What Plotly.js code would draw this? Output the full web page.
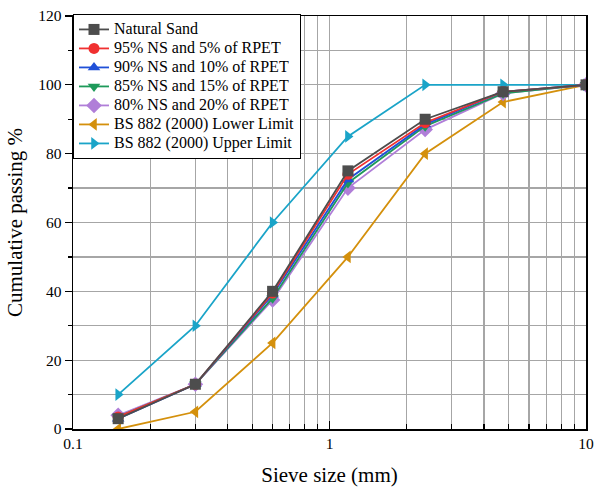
<!DOCTYPE html>
<html><head><meta charset="utf-8">
<script src="https://cdn.plot.ly/plotly-3.0.1.min.js"></script>
<style>body{margin:0;background:#fff}#chart{width:594px;height:494px}
.legendtext{font-size:16px !important;}</style>
</head><body><div id="chart"></div>
<script>
const sieveSizes = [0.15, 0.3, 0.6, 1.18, 2.36, 4.75, 10];
const naturalSand = [3, 13, 40, 75, 90, 98, 100];
const ns95 = [3.5, 13, 39.5, 74, 89, 98, 100];
const ns90 = [3, 13, 39, 72.5, 88.5, 98, 100];
const ns85 = [3.5, 13, 38, 71.5, 88, 97.5, 100];
const ns80 = [4, 13, 37.5, 70, 87, 97.5, 100];
const lowerLimit = [0, 5, 25, 50, 80, 95, 100];
const upperLimit = [10, 30, 60, 85, 100, 100, 100];
const seriesNames = ["Natural Sand", "95% NS and 5% of RPET", "90% NS and 10% of RPET", "85% NS and 15% of RPET", "80% NS and 20% of RPET", "BS 882 (2000) Lower Limit", "BS 882 (2000) Upper Limit"];
const xMajorTicks = [0.1, 1, 10];
const xMajorLabels = ["0.1", "1", "10"];
const xMinorTicks = [0.2,0.3,0.4,0.5,0.6,0.7,0.8,0.9,2,3,4,5,6,7,8,9];
const yMajorTicks = [0, 20, 40, 60, 80, 100, 120];
const yMinorTicks = [10, 30, 50, 70, 90, 110];

const seriesData = [naturalSand, ns95, ns90, ns85, ns80, lowerLimit, upperLimit];
const colors = ["#4d4d4d", "#f03030", "#2050d8", "#1e9a5a", "#b07ed8", "#d4900c", "#1aa4c8"];
const symbols = ["square", "circle", "triangle-up", "triangle-down", "diamond", "triangle-left", "triangle-right"];
const traces = seriesData.map((ys, i) => ({
  x: sieveSizes, y: ys, name: seriesNames[i], type: "scatter", mode: "lines+markers",
  line: {color: colors[i], width: 1.8},
  marker: {symbol: symbols[i], color: colors[i], size: i === 4 ? 12 : 11},
  legendrank: i + 1
}));
const drawn = [
  {x: [], y: [], xaxis: "x2", yaxis: "y2", type: "scatter", mode: "markers", showlegend: false, hoverinfo: "skip"},
  traces[5], traces[6], traces[4], traces[3], traces[2], traces[1], traces[0]
];

const font = {family: "Liberation Serif, Times New Roman, serif", color: "#000"};
const gridColor = "#a6a6a6";
const layout = {
  width: 594, height: 494,
  margin: {l: 73, r: 8, t: 16, b: 65},
  paper_bgcolor: "#fff", plot_bgcolor: "rgba(0,0,0,0)",
  font: Object.assign({size: 15}, font),
  showlegend: true,
  legend: {x: 0, y: 1.005, xanchor: "left", yanchor: "top", bgcolor: "#fff", bordercolor: "#000", borderwidth: 1,
    font: Object.assign({size: 12.3}, font), traceorder: "normal", tracegroupgap: 0, itemwidth: 30},
  xaxis: {
    type: "log", range: [-1, 1],
    title: {text: "Sieve size (mm)", font: Object.assign({size: 21}, font), standoff: 16},
    tickmode: "array", tickvals: xMajorTicks, ticktext: xMajorLabels,
    ticks: "inside", ticklen: 8, tickcolor: "#000", tickwidth: 1.2,
    tickfont: Object.assign({size: 15.5}, font),
    showgrid: true, gridcolor: gridColor, gridwidth: 1.2,
    showline: true, linecolor: "#000", linewidth: 1.5, mirror: true, zeroline: false
  },
  yaxis: {
    range: [0, 120],
    title: {text: "Cumulative passing %", font: Object.assign({size: 21}, font), standoff: 10},
    tickmode: "array", tickvals: yMajorTicks,
    ticks: "outside", ticklen: 7, tickcolor: "#000", tickwidth: 1.2,
    tickfont: Object.assign({size: 15.5}, font),
    showgrid: true, gridcolor: gridColor, gridwidth: 1.2,
    showline: true, linecolor: "#000", linewidth: 1.5, mirror: true, zeroline: false
  },
  xaxis2: {
    type: "log", range: [-1, 1], overlaying: "x", anchor: "y2", side: "bottom",
    tickmode: "array", tickvals: xMinorTicks, showticklabels: false,
    ticks: "inside", ticklen: 5, tickcolor: "#000", tickwidth: 1.2,
    showgrid: true, gridcolor: gridColor, gridwidth: 1.2, showline: false, zeroline: false
  },
  yaxis2: {
    range: [0, 120], overlaying: "y", anchor: "x2", side: "left",
    tickmode: "array", tickvals: yMinorTicks, showticklabels: false,
    ticks: "outside", ticklen: 4, tickcolor: "#000", tickwidth: 1.2,
    showgrid: true, gridcolor: gridColor, gridwidth: 1.2, showline: false, zeroline: false
  }
};
Plotly.newPlot("chart", drawn, layout, {displayModeBar: false, staticPlot: true});
</script></body></html>
